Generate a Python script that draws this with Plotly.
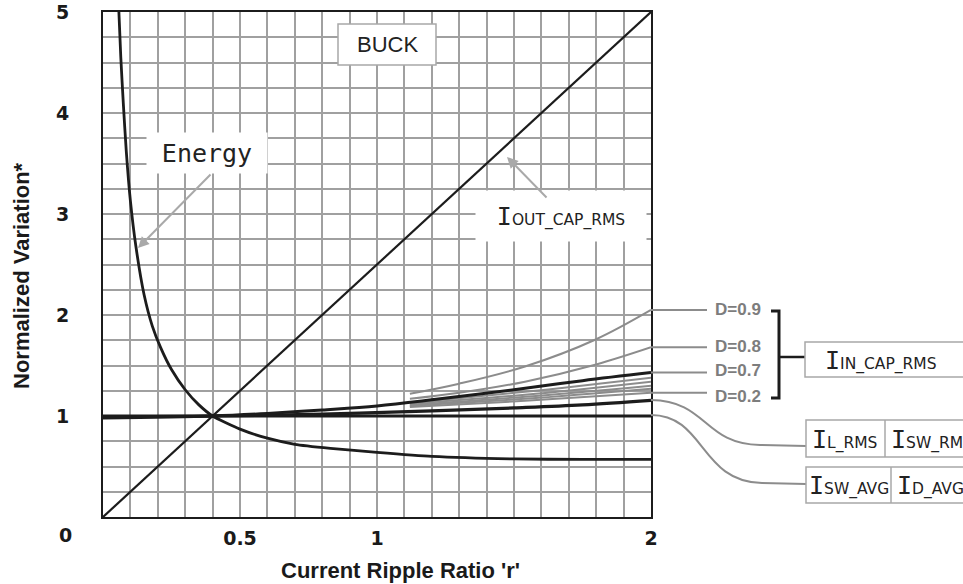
import plotly.graph_objects as go

# ---------------- data ----------------
r_energy = [0.058, 0.065, 0.074, 0.085, 0.10, 0.12, 0.15, 0.18, 0.21, 0.25, 0.30,
            0.35, 0.40, 0.50, 0.60, 0.70, 0.83, 1.00, 1.20, 1.50, 1.75, 2.00]
energy = [5.00, 4.55, 4.10, 3.62, 3.13, 2.68, 2.20, 1.89, 1.68, 1.46, 1.26,
          1.11, 1.00, 0.87, 0.78, 0.72, 0.68, 0.64, 0.60, 0.575, 0.57, 0.57]

r_out_cap = [0.0, 0.4, 2.0]
out_cap_rms = [0.0, 1.0, 5.0]

r_flat = [0.0, 2.0]
sw_avg = [1.0, 1.0]

r_l_rms = [0.0, 0.4, 0.8, 1.2, 1.5, 1.75, 2.0]
l_rms = [0.995, 1.0, 1.02, 1.05, 1.08, 1.11, 1.155]

r_d07 = [0.0, 0.4, 0.6, 0.8, 1.0, 1.2, 1.5, 1.75, 2.0]
in_cap_d07 = [0.98, 1.0, 1.025, 1.06, 1.10, 1.16, 1.26, 1.35, 1.43]

r_d_hi = [1.12, 1.3, 1.54, 1.8, 2.0]
in_cap_d09 = [1.22, 1.32, 1.49, 1.76, 2.05]
in_cap_d08 = [1.17, 1.23, 1.34, 1.51, 1.68]

r_d_lo = [1.12, 1.54, 2.0]
in_cap_d06 = [1.13, 1.24, 1.38]
in_cap_d05 = [1.12, 1.21, 1.34]
in_cap_d04 = [1.11, 1.19, 1.30]
in_cap_d03 = [1.10, 1.17, 1.27]
in_cap_d02 = [1.09, 1.15, 1.23]

x_tick_vals = [0.5, 1, 2]
x_tick_text = ["0.5", "1", "2"]
y_tick_vals = [1, 2, 3, 4, 5]
y_tick_text = ["1", "2", "3", "4", "5"]

d_labels = ["D=0.9", "D=0.8", "D=0.7", "D=0.2"]
d_label_ends = [in_cap_d09[-1], in_cap_d08[-1], in_cap_d07[-1], in_cap_d02[-1]]

# ---------------- layout geometry (pixels) ----------------
FW, FH = 963, 584
L, T, W, H = 103, 12, 548, 505


def px(x):
    return (x - L) / W


def py(y):
    return (T + H - y) / H


BLACK = "#1c1c1c"
GREY_LINE = "#8c8c8c"
GRID = "#a0a0a0"
BOX = "#a8a8a8"

fig = go.Figure()

# grey D curves
for vals, rr in [(in_cap_d02, r_d_lo), (in_cap_d03, r_d_lo), (in_cap_d04, r_d_lo),
                 (in_cap_d05, r_d_lo), (in_cap_d06, r_d_lo),
                 (in_cap_d08, r_d_hi), (in_cap_d09, r_d_hi)]:
    fig.add_trace(go.Scatter(x=rr, y=vals, mode="lines",
                             line=dict(color=GREY_LINE, width=2, shape="spline"),
                             hoverinfo="skip", showlegend=False))

# black curves
fig.add_trace(go.Scatter(x=r_flat, y=sw_avg, mode="lines",
                         line=dict(color=BLACK, width=3), showlegend=False))
fig.add_trace(go.Scatter(x=r_l_rms, y=l_rms, mode="lines",
                         line=dict(color=BLACK, width=3.2, shape="spline"), showlegend=False))
fig.add_trace(go.Scatter(x=r_d07, y=in_cap_d07, mode="lines",
                         line=dict(color=BLACK, width=3, shape="spline"), showlegend=False))
fig.add_trace(go.Scatter(x=r_out_cap, y=out_cap_rms, mode="lines",
                         line=dict(color=BLACK, width=2.2), showlegend=False))
fig.add_trace(go.Scatter(x=r_energy, y=energy, mode="lines",
                         line=dict(color=BLACK, width=2.8, shape="spline", smoothing=0.6),
                         showlegend=False))

shapes = []
annotations = []


def note(x, y, text, font, **kw):
    d = dict(xref="paper", yref="paper", x=x, y=y, text=text, font=font,
             showarrow=False, xanchor="center", yanchor="middle")
    d.update(kw)
    annotations.append(d)


# leader lines for D labels
for v in d_label_ends:
    shapes.append(dict(type="line", xref="paper", yref="y", x0=1.0, x1=px(707),
                       y0=v, y1=v, line=dict(color=GREY_LINE, width=2)))
label_shift = [0, 1, 2, -4]
D_FONT = dict(family="Liberation Sans, Arial", size=17, color="#7d7d7d", weight="bold")
for txt, v, s in zip(d_labels, d_label_ends, label_shift):
    note(px(713), v, txt, D_FONT, yref="y", yshift=s, xanchor="left")

# bracket
shapes.append(dict(type="path", xref="paper", yref="paper",
                   path=f"M {px(771)},{py(311)} L {px(779)},{py(311)} L {px(779)},{py(398)} L {px(771)},{py(398)}",
                   line=dict(color=BLACK, width=3)))
shapes.append(dict(type="line", xref="paper", yref="paper", x0=px(779), x1=px(805),
                   y0=py(357), y1=py(357), line=dict(color=BLACK, width=2.5)))

# curved leaders to the right-hand boxes
shapes.append(dict(type="path", xref="paper", yref="paper",
                   path=(f"M {px(651)},{py(400)} C {px(708)},{py(401)} {px(703)},{py(444)} {px(760)},{py(445)} "
                         f"L {px(806)},{py(446)}"),
                   line=dict(color=GREY_LINE, width=2)))
shapes.append(dict(type="path", xref="paper", yref="paper",
                   path=(f"M {px(651)},{py(415)} C {px(705)},{py(415)} {px(700)},{py(482)} {px(762)},{py(483)} "
                         f"L {px(806)},{py(484)}"),
                   line=dict(color=GREY_LINE, width=2)))

# boxes on the right
shapes.append(dict(type="rect", xref="paper", yref="paper", x0=px(805), x1=px(985),
                   y0=py(377), y1=py(342), line=dict(color=BOX, width=1.5), fillcolor="white"))
shapes.append(dict(type="rect", xref="paper", yref="paper", x0=px(806), x1=px(985),
                   y0=py(457), y1=py(420), line=dict(color=BOX, width=1.5), fillcolor="white"))
shapes.append(dict(type="line", xref="paper", yref="paper", x0=px(885), x1=px(885),
                   y0=py(457), y1=py(420), line=dict(color=BOX, width=1.5)))
shapes.append(dict(type="rect", xref="paper", yref="paper", x0=px(806), x1=px(985),
                   y0=py(503), y1=py(467), line=dict(color=BOX, width=1.5), fillcolor="white"))
shapes.append(dict(type="line", xref="paper", yref="paper", x0=px(891), x1=px(891),
                   y0=py(503), y1=py(467), line=dict(color=BOX, width=1.5)))

# BUCK box
shapes.append(dict(type="rect", xref="paper", yref="paper", x0=px(338), x1=px(436),
                   y0=py(65), y1=py(24), line=dict(color=BOX, width=1.5), fillcolor="white"))
note(px(387), py(45), "BUCK", dict(family="Liberation Sans, Arial", size=22, color="#222"))

BIG_I = "<span style='font-family:DejaVu Sans Mono;font-size:25px'>I</span>"
SUB_FONT = dict(family="DejaVu Sans", size=15.5, color="#222")


def cur_label(sub):
    return BIG_I + sub


# labels in right boxes
for txt, x0, yc in [("IN_CAP_RMS", 823, 360), ("L_RMS", 810, 439), ("SW_RMS", 889, 439),
                    ("SW_AVG", 807, 485), ("D_AVG", 895, 485)]:
    note(px(x0), py(yc), cur_label(txt), SUB_FONT, xanchor="left")

# Energy label with white background + arrow
note(px(207), py(153), "Energy", dict(family="DejaVu Sans Mono", size=25, color="#222"),
     bgcolor="white", width=118, height=38)
annotations.append(dict(xref="paper", yref="paper", x=px(138), y=py(248), text="",
                        showarrow=True, ax=74, ay=-75, arrowcolor="#a9a9a9", arrowwidth=2,
                        arrowhead=2, arrowsize=1.1))

# I_OUT_CAP_RMS label + arrow
note(px(561), py(216), cur_label("OUT_CAP_RMS"), SUB_FONT,
     bgcolor="white", width=168, height=48)
annotations.append(dict(xref="paper", yref="paper", x=px(507), y=py(157), text="",
                        showarrow=True, ax=41, ay=42, arrowcolor="#a9a9a9", arrowwidth=2,
                        arrowhead=2, arrowsize=1.1))

TICK_FONT = dict(family="DejaVu Sans", size=19, color="#1a1a1a", weight="bold")
TITLE_FONT = dict(family="Liberation Sans, Arial", size=22, color="#1a1a1a", weight="bold")

# origin "0"
note(px(65), py(535), "0", TICK_FONT)
# axis titles
note(px(400), py(570), "Current Ripple Ratio 'r'", TITLE_FONT)
note(px(21), py(276), "Normalized Variation*", TITLE_FONT, textangle=-90)

fig.update_layout(
    template="none",
    width=FW, height=FH,
    margin=dict(l=L, r=FW - L - W, t=T, b=FH - T - H, pad=0, autoexpand=False),
    paper_bgcolor="white", plot_bgcolor="white",
    showlegend=False, hovermode=False,
    shapes=shapes, annotations=annotations,
    xaxis=dict(range=[0, 2], tickmode="array", tickvals=x_tick_vals, ticktext=x_tick_text,
               automargin=False,
               showgrid=True, gridcolor=GRID, gridwidth=1.8, zeroline=False,
               minor=dict(tickmode="linear", tick0=0, dtick=0.1, showgrid=True,
                          gridcolor=GRID, gridwidth=1.8, ticks=""),
               showline=True, linecolor=BLACK, linewidth=2, mirror=True, ticks="",
               tickfont=TICK_FONT, ticklabelstandoff=3),
    yaxis=dict(range=[0, 5], tickmode="array", tickvals=y_tick_vals, ticktext=y_tick_text,
               automargin=False,
               showgrid=True, gridcolor=GRID, gridwidth=1.8, zeroline=False,
               minor=dict(tickmode="linear", tick0=0, dtick=0.25, showgrid=True,
                          gridcolor=GRID, gridwidth=1.8, ticks=""),
               showline=True, linecolor=BLACK, linewidth=2, mirror=True, ticks="",
               tickfont=TICK_FONT, ticklabelstandoff=28),
)

fig.write_html("out.html", config=dict(displayModeBar=False),
               post_script="document.body.style.margin='0';document.body.style.overflow='hidden';")
